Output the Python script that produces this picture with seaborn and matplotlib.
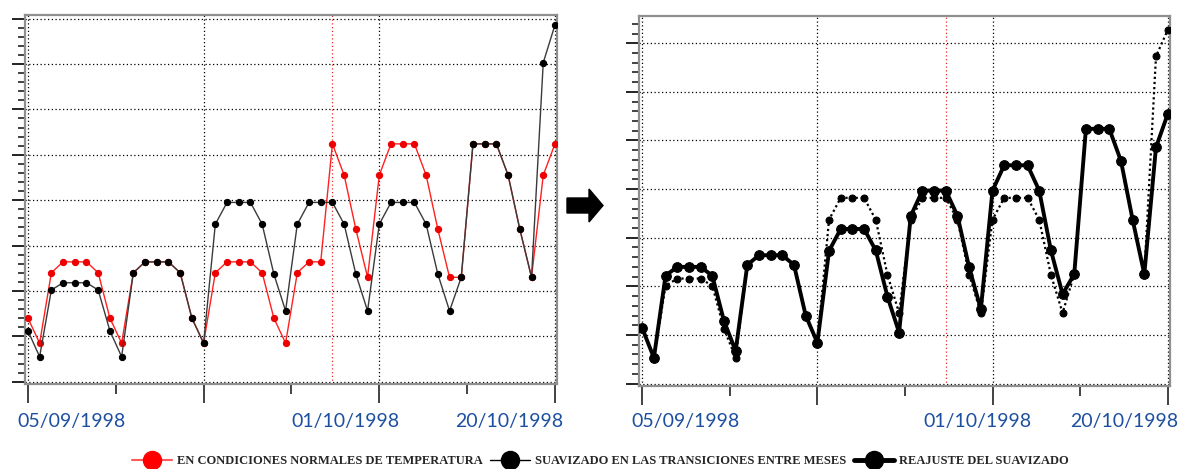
import numpy as np
import pandas as pd
import seaborn as sns
import matplotlib
matplotlib.use("Agg")
import matplotlib.pyplot as plt
import matplotlib.patches as mpatches
import matplotlib.transforms as mtrans
from matplotlib.lines import Line2D
from matplotlib.ticker import MultipleLocator, FixedLocator, NullFormatter

# ---------------- data ----------------
idx = list(range(46))

# left panel
red_normal = [1.40, 0.85, 2.40, 2.64, 2.64, 2.64, 2.40, 1.40, 0.85, 2.40,
              2.64, 2.64, 2.64, 2.40, 1.40, 0.85, 2.40, 2.64, 2.64, 2.64,
              2.40, 1.40, 0.85, 2.40, 2.64, 2.64, 5.24, 4.55, 3.36, 2.30,
              4.55, 5.24, 5.24, 5.24, 4.55, 3.36, 2.30, 2.30, 5.24, 5.24,
              5.24, 4.55, 3.36, 2.30, 4.55, 5.24]
black_smooth = [1.12, 0.55, 2.02, 2.18, 2.18, 2.18, 2.02, 1.12, 0.55, 2.40,
                2.64, 2.64, 2.64, 2.40, 1.40, 0.85, 3.47, 3.95, 3.95, 3.95,
                3.47, 2.37, 1.56, 3.47, 3.95, 3.95, 3.95, 3.47, 2.37, 1.56,
                3.47, 3.95, 3.95, 3.95, 3.47, 2.37, 1.56, 2.30, 5.24, 5.24,
                5.24, 4.55, 3.36, 2.30, 7.03, 7.86]

# right panel
dotted_smooth = [1.14, 0.53, 2.01, 2.16, 2.16, 2.16, 2.01, 1.13, 0.53, 2.44,
                 2.64, 2.64, 2.64, 2.44, 1.40, 0.84, 3.37, 3.82, 3.82, 3.82,
                 3.37, 2.24, 1.45, 3.37, 3.82, 3.82, 3.82, 3.37, 2.24, 1.45,
                 3.37, 3.82, 3.82, 3.82, 3.37, 2.24, 1.45, 2.25, 5.24, 5.24,
                 5.24, 4.58, 3.37, 2.25, 6.73, 7.27]
readjusted = [1.14, 0.53, 2.22, 2.40, 2.40, 2.40, 2.22, 1.29, 0.67, 2.44,
              2.64, 2.64, 2.64, 2.44, 1.40, 0.84, 2.73, 3.18, 3.18, 3.18,
              2.74, 1.79, 1.05, 3.45, 3.97, 3.97, 3.97, 3.45, 2.39, 1.53,
              3.97, 4.49, 4.49, 4.49, 3.97, 2.74, 1.84, 2.25, 5.24, 5.24,
              5.24, 4.58, 3.37, 2.25, 4.86, 5.54]

date_labels = ["05/09/1998", "01/10/1998", "20/10/1998"]
legend_labels = ["EN CONDICIONES NORMALES DE TEMPERATURA",
                 "SUAVIZADO EN LAS TRANSICIONES ENTRE MESES",
                 "REAJUSTE DEL SUAVIZADO"]
red_marker_index = 26

df_left = pd.DataFrame({"i": idx, "red": red_normal, "black": black_smooth})
df_right = pd.DataFrame({"i": idx, "dot": dotted_smooth, "thick": readjusted})

# ---------------- style ----------------
sns.set_style("white")
plt.rcParams["font.family"] = ["Lato", "DejaVu Sans"]

W, H = 1179, 469
fig = plt.figure(figsize=(W / 100, H / 100), dpi=100)

def px_axes(x0, x1, ytop, ybot):
    return fig.add_axes([x0 / W, 1 - ybot / H, (x1 - x0) / W, (ybot - ytop) / H])

axL = px_axes(25, 557.3, 15, 383.5)
axR = px_axes(639.3, 1170, 16, 386)

grid_kw = dict(color="black", linewidth=0.9, linestyle=(0, (1, 2)))

def style_axes(ax, ytop, ybot):
    ax.set_xlim(-0.25, 45.2)
    ax.set_ylim(ybot, ytop)
    ax.xaxis.set_major_locator(FixedLocator([0, 15, 30, 45]))
    ax.xaxis.set_minor_locator(FixedLocator([7.5, 22.5, 37.5]))
    ax.yaxis.set_major_locator(MultipleLocator(1))
    ax.yaxis.set_minor_locator(MultipleLocator(0.2))
    ax.xaxis.set_major_formatter(NullFormatter())
    ax.yaxis.set_major_formatter(NullFormatter())
    ax.tick_params(axis="x", which="major", direction="out", length=14,
                   width=1.2, color="#222222", bottom=True)
    ax.tick_params(axis="x", which="minor", direction="out", length=7.5,
                   width=1.2, color="#222222", bottom=True)
    ax.tick_params(axis="y", which="major", direction="out", length=9.5,
                   width=1.4, color="#222222", left=True)
    ax.tick_params(axis="y", which="minor", direction="out", length=5,
                   width=1.2, color="#222222", left=True)
    ax.grid(True, which="major", **grid_kw)
    ax.set_axisbelow(True)
    for s in ax.spines.values():
        s.set_color("#8f8f8f")
        s.set_linewidth(1.6)
    ax.set_xlabel("")
    ax.set_ylabel("")
    ax.axvline(red_marker_index, color="#e8302a", linewidth=0.9,
               linestyle=(0, (1, 2)), zorder=1)

# left panel
sns.lineplot(data=df_left, x="i", y="red", ax=axL, color="#ff2020",
             linewidth=1.0, marker="o", markersize=4.5, markerfacecolor="#ee0000",
             markeredgecolor="#ee0000", errorbar=None, sort=False, zorder=3)
sns.lineplot(data=df_left, x="i", y="black", ax=axL, color="#3a3a3a",
             linewidth=1.0, marker="o", markersize=4.5, markerfacecolor="black",
             markeredgecolor="black", errorbar=None, sort=False, zorder=4)
style_axes(axL, 8.08, -0.04)

# right panel
sns.lineplot(data=df_right, x="i", y="dot", ax=axR, color="black",
             linewidth=1.6, linestyle=(0, (1, 1.3)), marker="o", markersize=5,
             markerfacecolor="black", markeredgecolor="black",
             errorbar=None, sort=False, zorder=3)
sns.lineplot(data=df_right, x="i", y="thick", ax=axR, color="black",
             linewidth=2.8, marker="o", markersize=7, markerfacecolor="black",
             markeredgecolor="black", errorbar=None, sort=False, zorder=4)
style_axes(axR, 7.56, -0.05)

# date labels (blue)
date_color = "#1d4fa0"
y_lab = 1 - 421.7 / H
trL = mtrans.blended_transform_factory(axL.transData, fig.transFigure)
trR = mtrans.blended_transform_factory(axR.transData, fig.transFigure)
axL.text(-0.94, y_lab, date_labels[0], transform=trL, ha="left", va="center",
         fontsize=14, color=date_color)
axL.text(27.1, y_lab, date_labels[1], transform=trL, ha="center", va="center",
         fontsize=14, color=date_color)
axL.text(41.1, y_lab, date_labels[2], transform=trL, ha="center", va="center",
         fontsize=14, color=date_color)
axR.text(-0.94, y_lab, date_labels[0], transform=trR, ha="left", va="center",
         fontsize=14, color=date_color)
axR.text(28.7, y_lab, date_labels[1], transform=trR, ha="center", va="center",
         fontsize=14, color=date_color)
axR.text(41.25, y_lab, date_labels[2], transform=trR, ha="center", va="center",
         fontsize=14, color=date_color)

# arrow between panels
arrow = mpatches.FancyArrow(5.67, (H - 205.5) / 100, 0.36, 0, width=0.15,
                            head_width=0.33, head_length=0.14,
                            length_includes_head=True, color="black",
                            transform=fig.dpi_scale_trans)
fig.patches.append(arrow)

# legend
handles = [
    Line2D([], [], color="#ff5a5a", linewidth=1.5, marker="o", markersize=13,
           markerfacecolor="#ff0000", markeredgecolor="#ff0000"),
    Line2D([], [], color="black", linewidth=1.0, marker="o", markersize=13,
           markerfacecolor="black", markeredgecolor="black"),
    Line2D([], [], color="black", linewidth=3.5, marker="o", markersize=13,
           markerfacecolor="black", markeredgecolor="black"),
]
fig.legend(handles, legend_labels, loc="center", ncol=3, frameon=False,
           bbox_to_anchor=(600 / W, 1 - 461 / H),
           prop={"family": "Liberation Serif", "weight": "bold", "size": 9},
           handlelength=3.2, handletextpad=0.4, columnspacing=0.6,
           borderpad=0, borderaxespad=0)

fig.savefig("out.png", dpi=100)
